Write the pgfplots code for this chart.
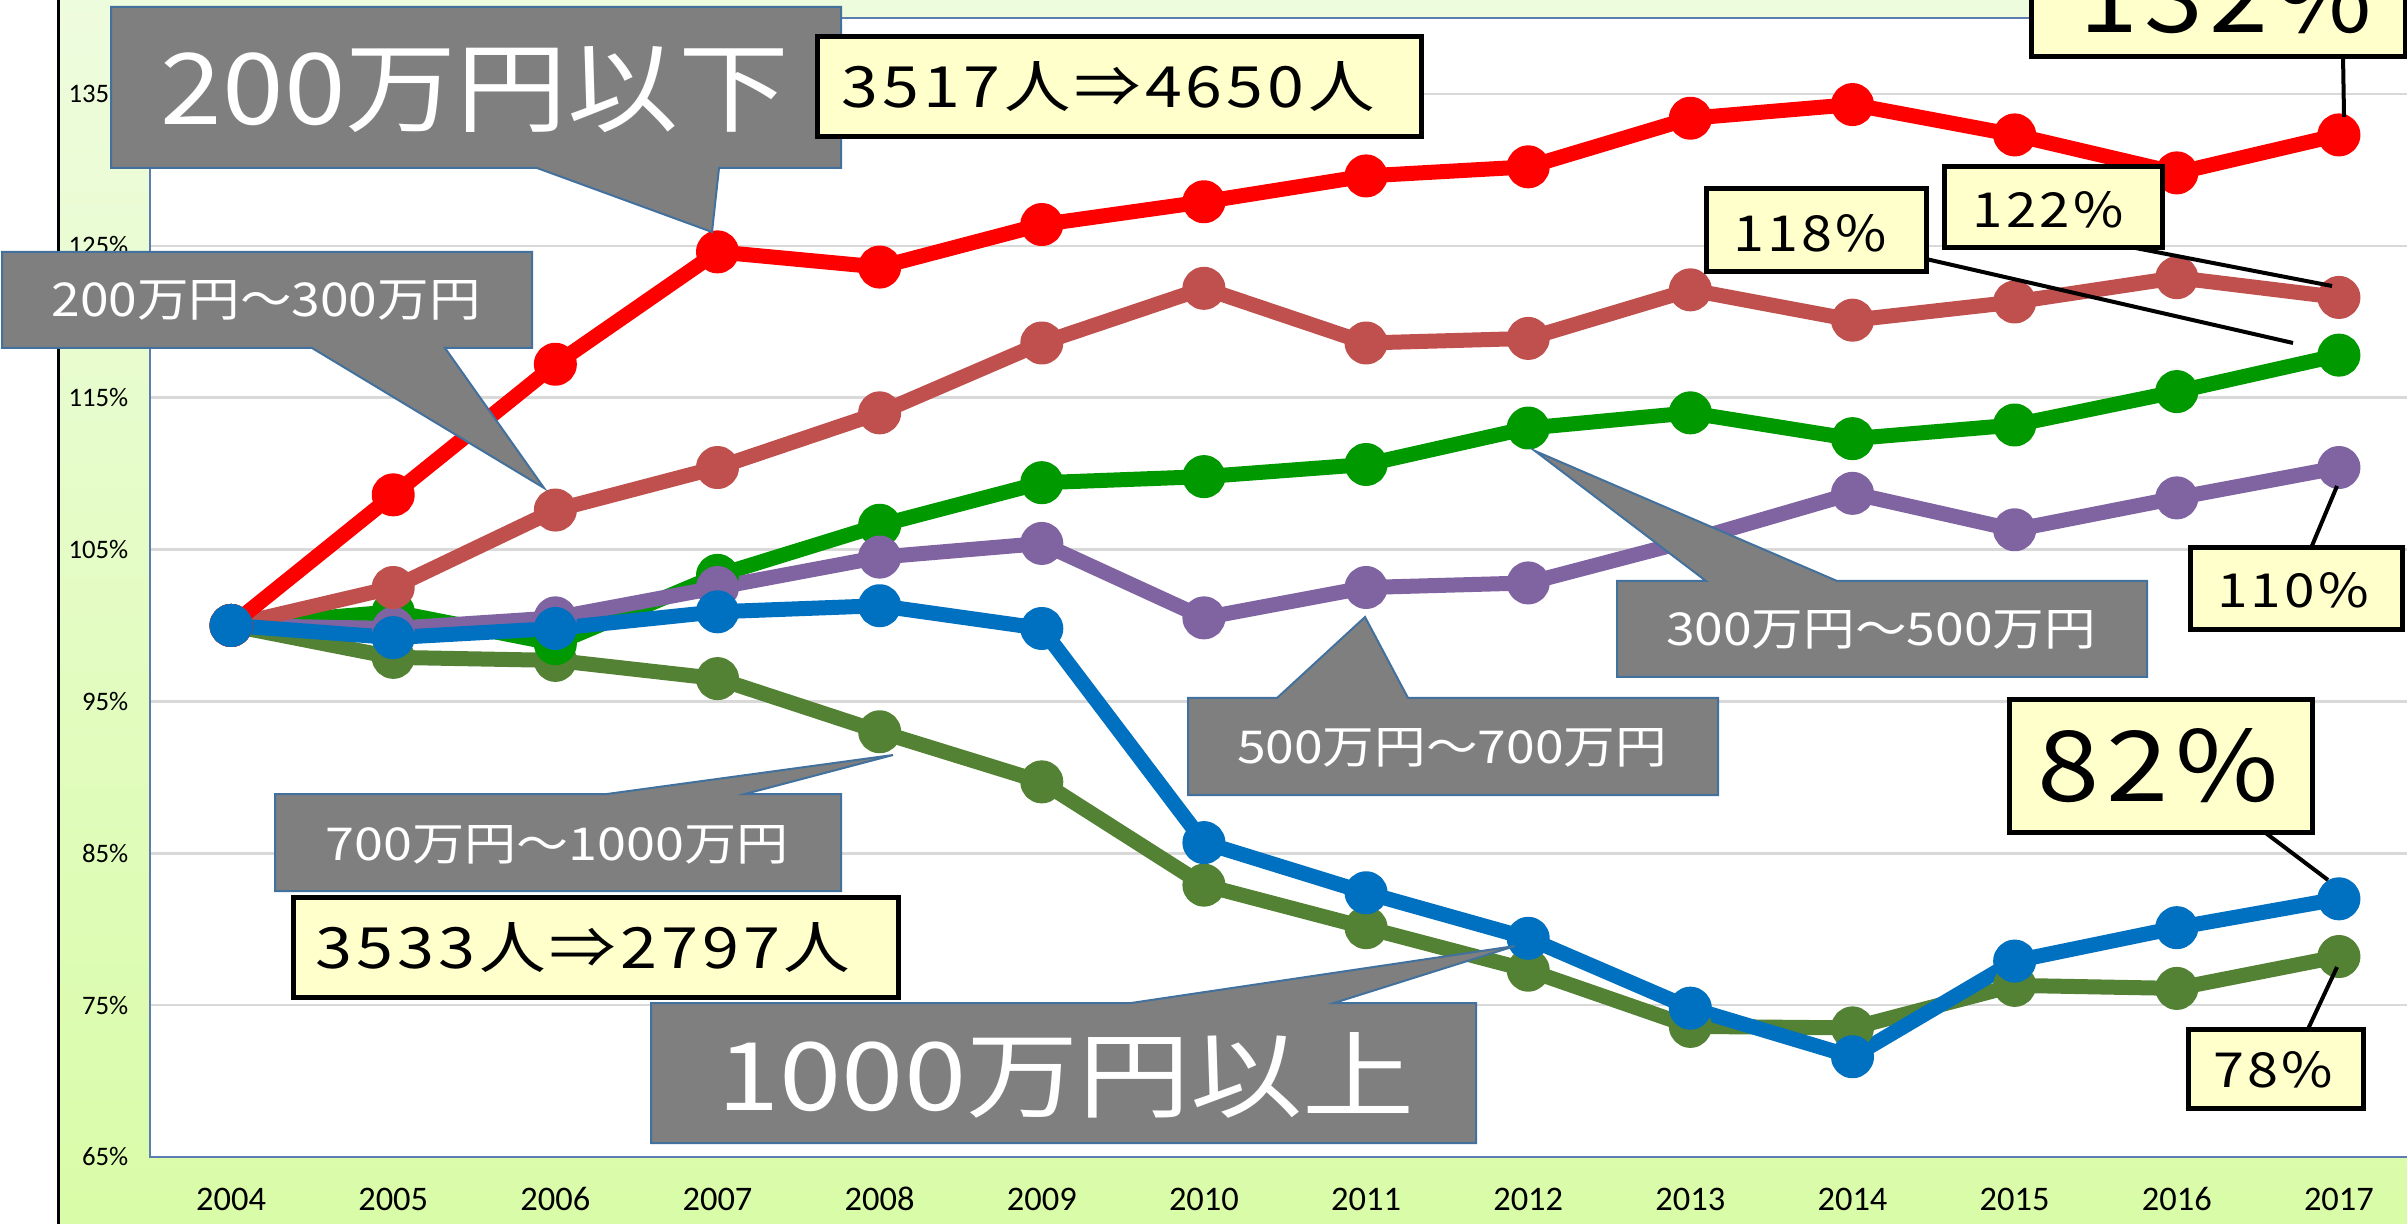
\documentclass[border=0pt]{standalone}
\usepackage{fontspec}
\setmainfont{Carlito}
\newfontfamily\jp{Noto Sans CJK JP}
\newfontfamily\jpls[LetterSpace=6]{Noto Sans CJK JP}
\usepackage{graphicx}
\usepackage{pgfplots}
\pgfplotsset{compat=1.18}
\definecolor{cred}{HTML}{FF0000}
\definecolor{cbrown}{HTML}{C0504D}
\definecolor{cgreen}{HTML}{009900}
\definecolor{cpurple}{HTML}{8064A2}
\definecolor{cblue}{HTML}{0070C0}
\definecolor{colive}{HTML}{548235}
\definecolor{callgray}{HTML}{7F7F7F}
\definecolor{calledge}{HTML}{41719C}
\definecolor{boxyellow}{HTML}{FFFFCC}
\definecolor{gridgray}{HTML}{D9D9D9}
\definecolor{axisblue}{HTML}{5B7DB1}
\definecolor{bgtop}{HTML}{EEFCDE}
\definecolor{bgbot}{HTML}{D9FCA8}
\newcommand{\gtxt}[5]{\node[text=white,inner sep=0pt] at (#1,#2) {\resizebox{#3}{#4}{\jp #5}};}
\newcommand{\ytxt}[5]{\node[text=black,inner sep=0pt] at (#1,#2) {\resizebox{#3}{#4}{\jpls #5}};}
\begin{document}
\begin{tikzpicture}
\useasboundingbox (0,0) rectangle (240.7mm,122.4mm);
\clip (0,0) rectangle (240.7mm,122.4mm);
\fill[white] (0,0) rectangle (240.7mm,122.4mm);
\shade[top color=bgtop, bottom color=bgbot] (5.9mm,0) rectangle (240.7mm,122.4mm);
\draw[black, line width=0.3mm] (5.8mm,0) -- (5.8mm,122.4mm);
\begin{axis}[
  at={(15.0mm,6.7mm)}, anchor=south west, scale only axis,
  width=227.0mm, height=113.9mm,
  xmin=2003.5, xmax=2017.5, ymin=65, ymax=140,
  xtick={2004,2005,2006,2007,2008,2009,2010,2011,2012,2013,2014,2015,2016,2017},
  xticklabels={2004,2005,2006,2007,2008,2009,2010,2011,2012,2013,2014,2015,2016,2017},
  ytick={65,75,85,95,105,115,125,135},
  yticklabels={65\%,75\%,85\%,95\%,105\%,115\%,125\%,135\%},
  xticklabel style={font=\fontsize{9.8}{10}\selectfont, anchor=center, yshift=-4.2mm},
  yticklabel style={font=\fontsize{7.6}{8}\selectfont, anchor=east, inner sep=0pt, xshift=-2.1mm},
  major tick length=0pt,
  ymajorgrids, grid style={color=gridgray, line width=0.25mm},
  axis line style={draw=axisblue, line width=0.2mm},
  axis background/.style={fill=white},
  every axis plot/.append style={line width=1.5mm, mark=*, mark size=1.4mm, line join=round},
]
\addplot[colive, mark options={fill=colive, draw=colive}] coordinates {
(2004,100) (2005,97.9) (2006,97.7) (2007,96.5) (2008,93.0) (2009,89.7) (2010,82.9)
(2011,80.1) (2012,77.3) (2013,73.6) (2014,73.5) (2015,76.3) (2016,76.1) (2017,78.2)};
\addplot[cgreen, mark options={fill=cgreen, draw=cgreen}] coordinates {
(2004,100) (2005,100.9) (2006,98.8) (2007,103.3) (2008,106.6) (2009,109.4) (2010,109.8)
(2011,110.6) (2012,113.0) (2013,114.0) (2014,112.3) (2015,113.2) (2016,115.4) (2017,117.8)};
\addplot[cpurple, mark options={fill=cpurple, draw=cpurple}] coordinates {
(2004,100) (2005,99.8) (2006,100.5) (2007,102.5) (2008,104.5) (2009,105.4) (2010,100.5)
(2011,102.5) (2012,102.8) (2013,105.6) (2014,108.7) (2015,106.3) (2016,108.4) (2017,110.4)};
\addplot[cbrown, mark options={fill=cbrown, draw=cbrown}] coordinates {
(2004,100) (2005,102.5) (2006,107.6) (2007,110.4) (2008,114.0) (2009,118.6) (2010,122.2)
(2011,118.6) (2012,118.9) (2013,122.1) (2014,120.1) (2015,121.3) (2016,122.9) (2017,121.6)};
\addplot[cred, mark options={fill=cred, draw=cred}] coordinates {
(2004,100) (2005,108.6) (2006,117.2) (2007,124.6) (2008,123.6) (2009,126.4) (2010,127.9)
(2011,129.6) (2012,130.2) (2013,133.4) (2014,134.3) (2015,132.3) (2016,129.8) (2017,132.3)};
\addplot[cblue, mark options={fill=cblue, draw=cblue}] coordinates {
(2004,100) (2005,99.2) (2006,99.8) (2007,100.9) (2008,101.3) (2009,99.8) (2010,85.7)
(2011,82.4) (2012,79.4) (2013,74.8) (2014,71.6) (2015,77.9) (2016,80.1) (2017,82.0)};
\end{axis}
\begin{scope}[x=0.1mm, y=-0.1mm, yshift=122.4mm]
% gray callouts
\begin{scope}[fill=callgray, draw=calledge, line width=0.2mm, line join=miter]
\filldraw (111,7)--(841,7)--(841,168)--(719,168)--(712,232)--(537,168)--(111,168)--cycle;
\filldraw (2,252)--(532,252)--(532,348)--(445,348)--(544,488)--(312,348)--(2,348)--cycle;
\filldraw (1617,581)--(1706,581)--(1535,451)--(1837,581)--(2147,581)--(2147,677)--(1617,677)--cycle;
\filldraw (1188,698)--(1277,698)--(1365,617)--(1408,698)--(1718,698)--(1718,795)--(1188,795)--cycle;
\filldraw (275,794)--(607,794)--(893,755)--(745,794)--(841,794)--(841,891)--(275,891)--cycle;
\filldraw (651,1003)--(1131,1003)--(1515,946)--(1334,1003)--(1476,1003)--(1476,1143)--(651,1143)--cycle;
\end{scope}
\gtxt{475}{90}{62.8mm}{7.8mm}{200万円以下}
\gtxt{266}{300}{42.9mm}{3.6mm}{200万円～300万円}
\gtxt{1881}{630}{43.0mm}{3.5mm}{300万円～500万円}
\gtxt{1452}{748}{43.0mm}{3.5mm}{500万円～700万円}
\gtxt{557}{845}{46.3mm}{3.5mm}{700万円～1000万円}
\gtxt{1066}{1075}{69.7mm}{7.8mm}{1000万円以上}
% leaders
\begin{scope}[draw=black, line width=0.4mm]
\draw (2343,57)--(2344,117);
\draw (2125,246)--(2332,286);
\draw (1926,259)--(2293,343);
\draw (2311,548)--(2337,486);
\draw (2259,828)--(2328,880);
\draw (2308,1029)--(2337,967);
\end{scope}
% yellow boxes
\begin{scope}[fill=boxyellow, draw=black, line width=0.5mm]
\filldraw (817,37) rectangle (1421,137);
\filldraw (293,897) rectangle (898,997);
\filldraw (2031,-73) rectangle (2405,57);
\filldraw (1944,167) rectangle (2162,248);
\filldraw (1706,189) rectangle (1926,272);
\filldraw (2190,548) rectangle (2402,630);
\filldraw (2009,700) rectangle (2312,832);
\filldraw (2188,1029) rectangle (2363,1108);
\end{scope}
\ytxt{1108}{87}{53.3mm}{4.6mm}{3517人⇒4650人}
\ytxt{583}{948}{53.5mm}{4.6mm}{3533人⇒2797人}
\ytxt{2226}{-3}{29.3mm}{7.3mm}{132\%}
\ytxt{2048}{210}{15.1mm}{3.6mm}{122\%}
\ytxt{1810}{233}{15.4mm}{3.7mm}{118\%}
\ytxt{2293}{590}{15.2mm}{3.5mm}{110\%}
\ytxt{2158}{766}{24.1mm}{7.3mm}{82\%}
\ytxt{2273}{1070}{12.0mm}{3.6mm}{78\%}
\end{scope}
\end{tikzpicture}
\end{document}
